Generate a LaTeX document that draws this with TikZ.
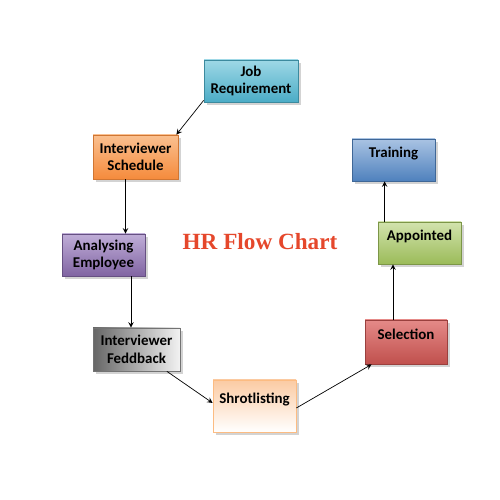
\documentclass[tikz,border=0pt]{standalone}
\usepackage{fontspec}
\setmainfont{Carlito}
\newfontfamily\titlefont{Liberation Serif}
\usetikzlibrary{shadows}
\definecolor{jobtop}{HTML}{9ED8E6}
\definecolor{jobbot}{HTML}{4BACC6}
\definecolor{schtop}{HTML}{FAC090}
\definecolor{schbot}{HTML}{F58B3C}
\definecolor{anatop}{HTML}{C0AED8}
\definecolor{anabot}{HTML}{8064A2}
\definecolor{seltop}{HTML}{E58A88}
\definecolor{selbot}{HTML}{C0504D}
\definecolor{apptop}{HTML}{D2E3AD}
\definecolor{appbot}{HTML}{9BBB59}
\definecolor{trntop}{HTML}{A9C3E3}
\definecolor{trnbot}{HTML}{4F81BD}
\definecolor{shrtop}{HTML}{FBCBA3}
\definecolor{titlered}{HTML}{E5472B}
\begin{document}
\begin{tikzpicture}[>=stealth,
    box/.style={draw,minimum width=1.66cm,minimum height=0.84cm,align=center,
      font=\bfseries\fontsize{8.5}{10}\selectfont,
      drop shadow={opacity=0.35,shadow xshift=1.5pt,shadow yshift=-1.5pt}},
    onebox/.style={box,text depth=0.32cm}]
    \useasboundingbox (0,0) rectangle (10,10);
    \node[box,minimum width=1.88cm,top color=jobtop,bottom color=jobbot,draw=jobbot!80!black] (job) at (5.02,8.38) {Job\\Requirement};
    \node[box,minimum width=1.70cm,minimum height=0.88cm,top color=schtop,bottom color=schbot,draw=schbot!85!black] (sched) at (2.71,6.86) {Interviewer\\Schedule};
    \node[box,top color=anatop,bottom color=anabot,draw=anabot!80!black] (anal) at (2.07,4.90) {Analysing\\Employee};
    \node[box,minimum width=1.74cm,minimum height=0.86cm,left color=black!60,right color=black!5,draw=black!55] (feed) at (2.73,3.01) {Interviewer\\Feddback};
    \node[onebox,minimum height=1.04cm,top color=shrtop,bottom color=white,draw=shrtop!80!orange] (short) at (5.09,1.88) {Shrotlisting};
    \node[onebox,minimum width=1.64cm,minimum height=0.88cm,top color=seltop,bottom color=selbot,draw=selbot!80!black] (sel) at (8.12,3.16) {Selection};
    \node[onebox,top color=apptop,bottom color=appbot,draw=appbot!80!black] (app) at (8.39,5.14) {Appointed};
    \node[onebox,top color=trntop,bottom color=trnbot,draw=trnbot!80!black] (train) at (7.87,6.80) {Training};
    \node[text=titlered,font=\titlefont\bfseries\fontsize{13.2}{16}\selectfont] (title) at (5.2,5.16) {HR Flow Chart};
    % connectors
    \draw[->] ([yshift=0.04cm]job.south west) -- ([xshift=-0.04cm]sched.north east);
    \draw[->] ([xshift=-0.2cm]sched.south) -- ([xshift=-0.2cm]sched.south |- anal.north);
    \draw[->] ([xshift=0.55cm]anal.south) -- ([xshift=0.55cm]anal.south |- feed.north);
    \draw[->] ([xshift=-0.27cm]feed.south east) -- ([yshift=0.06cm]short.west);
    \draw[->] ([yshift=-0.04cm]short.east) -- ([xshift=0.14cm]sel.south west);
    \draw[->] ([xshift=-0.26cm]sel.north) -- ([xshift=-0.26cm]sel.north |- app.south);
    \draw[->] ([xshift=0.14cm]app.north west) -- ([xshift=0.14cm]app.north west |- train.south);
\end{tikzpicture}
\end{document}
